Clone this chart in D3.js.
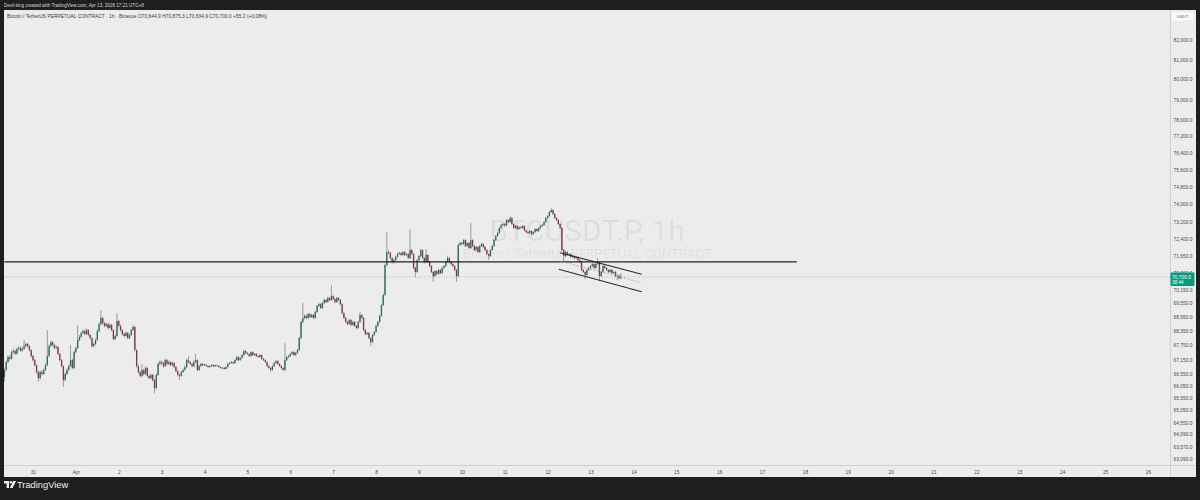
<!DOCTYPE html>
<html><head><meta charset="utf-8">
<script src="https://cdn.jsdelivr.net/npm/d3@7"></script>
<style>html,body{margin:0;padding:0;background:#1e1e1e;overflow:hidden}</style>
</head><body><svg id="c" width="1200" height="500"></svg>
<script>
// ---------- DATA ----------
const symbolName = "BTCUSDT.P, 1h";
const symbolDesc = "Bitcoin / TetherUS PERPETUAL CONTRACT";
const headerText = "Devil-king created with TradingView.com, Apr 13, 2026 17:21 UTC+8";
const legendTitle = "Bitcoin / TetherUS PERPETUAL CONTRACT · 1h · Binance";
const legendValues = ["O", "70,644.9", "H", "70,875.3", "L", "70,634.9", "C", "70,700.0", "+55.2 (+0.08%)"];

const firstBarTime = "2026-03-30T08:00:00Z"; // hourly bars (UTC+8 shown as-is)
const firstOpen = 66420;
const closes = [
66710,67040,67250,67180,67460,67500,67390,67590,67630,67520,67590,67710,67800,67710,67540,67290,
67120,66910,66620,66370,66620,66540,66710,66910,67290,67710,67880,67760,67630,67670,67380,67120,66870,66290,66540,66710,66870,67120,66790,67460,
67630,67970,68100,68270,68350,68220,68390,68180,68050,67710,67800,67970,68350,68650,68910,68690,68570,68650,68480,68610,68390,68010,68140,68780,
68570,68390,68220,68140,68270,68050,68180,68390,68520,67540,66870,66620,66460,66710,66540,66790,66460,66370,66500,66290,65960,66500,66960,67040,
67000,66870,67120,66960,67040,66910,67000,66830,66660,66500,66460,66620,66710,66830,67120,67040,66960,66870,67040,67120,66710,66870,66960,66910,
66930,66880,66830,66870,66920,66860,66910,66880,66830,66790,66800,66750,66830,66960,67000,67040,66990,67120,67250,67120,67210,67330,67500,67420,
67380,67290,67460,67330,67380,67290,67250,67330,67170,67120,67040,66870,66790,66710,66870,67000,67080,66960,66870,66790,66710,67120,67250,67290,
67380,67460,67330,67420,67540,68050,68740,68910,69000,68910,69080,68950,69040,68910,69170,69430,69510,69340,69560,69690,69600,69780,69690,69860,
69730,69600,69780,69690,69510,69120,68910,68740,68650,68820,68610,68740,68570,68480,68740,69040,68910,68390,68220,68270,68050,67880,68180,68310,
68570,68740,69000,69470,69910,71230,71810,71770,71540,71360,71450,71590,71720,71770,71680,71810,71680,71720,71540,71900,71720,71100,70920,71450,
71630,71900,71540,71360,71680,71360,71180,70920,70740,70960,70830,71010,70870,71100,71180,71360,71540,71360,71270,71180,71010,70740,72130,72220,
72170,72350,72080,72220,71990,72350,72080,71900,72040,71810,72080,72170,72040,71900,71720,71630,71900,72080,72350,72530,72670,72900,73030,73080,
73010,73260,73170,73350,73080,72900,72990,72850,72940,72900,72990,72800,72710,72670,72760,72620,72710,72850,72760,72900,72990,73030,73170,73350,
73440,73630,73720,73540,73350,73260,73080,72900,71900,71630,71810,71680,71720,71590,71630,71540,71590,71450,71360,71010,70920,70790,71010,71100,
71180,71270,71100,71270,71360,70740,70920,71180,71100,71010,70920,71010,70870,70920,70740,70760,70644.9,70700
];
const highs = [
66780,67110,67330,67320,67520,67610,67560,67650,67720,67690,67680,67970,67860,67850,67760,67580,
67340,67160,66950,66680,66690,66700,66770,66980,68390,67790,67950,67920,67810,67740,67710,67420,67160,66900,66600,66780,66930,67760,67180,67530,
67700,68610,68180,68330,68430,68410,68460,68430,68230,68090,67870,68040,68420,68720,69250,68960,68740,68720,68700,68680,68650,68430,68200,69120,
68830,68620,68440,68290,68340,68310,68250,68450,68610,68560,67580,66920,66680,66960,66760,66860,66830,66510,66560,66540,66330,66560,67020,67120,
67100,67050,67180,67170,67110,67080,67060,67040,66870,66700,66560,66680,66770,66890,67180,67290,67090,67000,67100,67380,67160,66930,67010,67000,
66980,66960,66910,66900,66950,66940,66930,66930,66900,66850,66830,66820,66860,67000,67040,67080,67060,67160,67300,67270,67250,67380,67560,67540,
67460,67410,67500,67480,67420,67410,67320,67370,67350,67200,67150,67070,66900,66820,66910,67040,67120,67110,66990,66900,66820,67840,67300,67340,
67420,67510,67490,67460,67590,68110,68800,69560,69070,69050,69130,69120,69090,69080,69220,69480,69570,69550,69610,69740,69730,69830,69820,70340,
69900,69770,69830,69820,69730,69550,69160,68950,68790,68870,68860,68790,68780,68610,68790,69170,69080,68950,68430,68320,68310,68090,68230,68360,
68620,68790,69050,69530,69970,71290,72710,71900,71820,71590,71510,71640,71770,71830,71810,71860,71850,71770,71760,72850,71950,71760,71150,71500,
71680,71960,71940,71580,71950,71720,71400,71220,70960,71010,71000,71060,71050,71150,71230,71410,71640,71580,71400,71310,71220,71050,72190,72280,
72270,72400,72390,72270,72260,73120,72390,72120,72090,72080,72130,72220,72210,72080,71940,71760,71950,72130,72400,72580,72720,72950,73080,73140,
73130,73310,73300,73440,73390,73120,73040,73030,72990,72980,73030,73030,72840,72750,72800,72800,72750,72890,72890,72940,73030,73080,73220,73400,
73490,73680,73810,73760,73580,73390,73300,73120,72940,71940,71860,71850,71770,71760,71680,71670,71640,71630,71490,71400,71050,70960,71060,71150,
71230,71450,71310,71320,71540,71400,70970,71230,71220,71140,71050,71060,71050,70970,70960,70810,70800,70875.3
];
const lows = [
66220,66650,66990,67100,67140,67400,67330,67350,67520,67470,67480,67550,67650,67640,67490,67230,
67050,66850,66560,66210,66320,66480,66490,66660,66870,67240,67660,67700,67570,67580,67330,67060,66810,66000,66240,66490,66650,66830,66730,66750,
67400,67590,67920,68050,68210,68170,68180,68130,67990,67650,67660,67760,67930,68300,68600,68630,68510,68520,68420,68440,68340,67950,67960,68100,
68510,68330,68160,68080,68100,68000,68010,68140,68350,67480,66800,66550,66400,66420,66480,66490,66400,66310,66320,66230,65750,65910,66450,66900,
66930,66800,66830,66900,66910,66860,66870,66780,66600,66440,66290,66420,66580,66670,66790,66990,66910,66820,66830,67000,66660,66670,66830,66870,
66870,66840,66800,66800,66840,66830,66840,66850,66800,66760,66760,66720,66730,66810,66930,66970,66950,66970,67090,67080,67090,67180,67300,67370,
67340,67250,67260,67300,67300,67260,67210,67220,67130,67080,67000,66830,66740,66620,66680,66840,66960,66920,66830,66750,66660,66680,67080,67200,
67250,67340,67290,67300,67380,67500,68000,68700,68850,68860,68870,68900,68910,68860,68880,69130,69390,69290,69300,69520,69550,69570,69640,69650,
69680,69550,69560,69640,69460,69070,68860,68690,68590,68610,68560,68570,68520,68430,68440,68700,68860,68340,68170,68180,68000,67710,67840,68140,
68270,68530,68700,68960,69430,69870,71180,71700,71480,71300,71310,71410,71550,71680,71630,71640,71630,71640,71490,71500,71670,71040,70700,70880,
71400,71590,71490,71300,71320,71310,71130,70870,70480,70700,70780,70790,70820,70830,71060,71140,71320,71310,71220,71130,70960,70480,70700,72080,
72110,72130,72030,72040,71940,71950,72030,71850,71860,71760,71770,72040,71990,71850,71670,71450,71590,71860,72040,72310,72490,72630,72860,72990,
72960,72970,73120,73130,73030,72850,72860,72800,72810,72860,72860,72750,72660,72620,72630,72530,72580,72670,72720,72720,72860,72950,72990,73130,
73300,73400,73590,73490,73300,73210,73030,72850,71840,71360,71590,71630,71640,71540,71550,71490,71500,71400,71310,70960,70870,70610,70750,70960,
71050,71140,71050,71060,71230,70520,70700,70880,71050,70960,70870,70880,70820,70830,70690,70560,70600,70634.9
];

const priceTicks = [82000,81000,80000,79000,78000,77200,76400,75600,74800,74000,73200,72400,71650,70900,70150,69550,68950,68350,67750,67150,66550,66050,65550,65050,64550,64090,63570,63090];
const dayTicks = ["2026-03-31","2026-04-01","2026-04-02","2026-04-03","2026-04-04","2026-04-05","2026-04-06","2026-04-07","2026-04-08","2026-04-09","2026-04-10","2026-04-11","2026-04-12","2026-04-13","2026-04-14","2026-04-15","2026-04-16","2026-04-17","2026-04-18","2026-04-19","2026-04-20","2026-04-21","2026-04-22","2026-04-23","2026-04-24","2026-04-25","2026-04-26"];
const dayLabels = ["31","Apr","2","3","4","5","6","7","8","9","10","11","12","13","14","15","16","17","18","19","20","21","22","23","24","25","26"];

const lastPrice = 70700;
const countdown = "38:44";
const hLine = [["2026-03-30T08:00:00Z", 71370], ["2026-04-17T19:25:00Z", 71370]];
const channelUpper = [["2026-04-12T06:50:00Z", 71780], ["2026-04-14T04:40:00Z", 70817]];
const channelLower = [["2026-04-12T06:15:00Z", 71040], ["2026-04-14T04:40:00Z", 70050]];
const channelMid   = [["2026-04-12T06:50:00Z", 71410], ["2026-04-14T04:40:00Z", 70446]];

// ---------- LAYOUT ----------
const W = 1200, H = 500;
const pane = {x0: 4, x1: 1170, y0: 10, y1: 465};
const svg = d3.select("#c");
const FONT = "'Liberation Sans', Arial, sans-serif";

const x = d3.scaleUtc()
  .domain([new Date("2026-03-31T00:00:00Z"), new Date("2026-04-26T00:00:00Z")])
  .range([33, 1148]);
const y = d3.scaleLog().domain([63090, 82000]).range([459.2, 39.7]);

// frame
svg.append("rect").attr("width", W).attr("height", H).attr("fill", "#1e1e1e");
svg.append("rect").attr("x", 4).attr("y", 10).attr("width", 1192).attr("height", 467).attr("fill", "#ececec");
svg.append("line").attr("x1", pane.x1 + 0.5).attr("x2", pane.x1 + 0.5).attr("y1", 10).attr("y2", 477).attr("stroke", "#d0d0d0");
svg.append("line").attr("x1", 4).attr("x2", 1196).attr("y1", pane.y1 + 0.5).attr("y2", pane.y1 + 0.5).attr("stroke", "#d0d0d0");

// header
svg.append("text").attr("x", 4).attr("y", 7).attr("font-family", FONT).attr("font-size", 4.6)
  .attr("fill", "#d8d8d8").text(headerText);

// clip for pane
svg.append("clipPath").attr("id", "pc").append("rect")
  .attr("x", pane.x0).attr("y", pane.y0).attr("width", pane.x1 - pane.x0).attr("height", pane.y1 - pane.y0);
const g = svg.append("g").attr("clip-path", "url(#pc)");

// watermark
g.append("text").attr("x", 587).attr("y", 241).attr("text-anchor", "middle")
  .attr("font-family", "Roboto, 'Liberation Sans', sans-serif").attr("font-size", 30)
  .attr("fill", "#000").attr("fill-opacity", 0.07).text(symbolName);
g.append("text").attr("x", 587).attr("y", 258).attr("text-anchor", "middle")
  .attr("font-family", "Roboto, 'Liberation Sans', sans-serif").attr("font-size", 13)
  .attr("fill", "#000").attr("fill-opacity", 0.07).text(symbolDesc);

// legend
const lg = svg.append("text").attr("x", 7).attr("y", 17.5).attr("font-family", FONT).attr("font-size", 4.9).attr("fill", "#3a3a3a");
lg.append("tspan").text(legendTitle + "  ");
legendValues.forEach((v, i) => {
  lg.append("tspan").text(v + (i % 2 === 1 || i === 8 ? "  " : ""));
});

// last price dotted line
g.append("line").attr("x1", pane.x0).attr("x2", pane.x1).attr("y1", y(lastPrice)).attr("y2", y(lastPrice))
  .attr("stroke", "#089981").attr("stroke-opacity", 0.6).attr("stroke-width", 0.7).attr("stroke-dasharray", "1,1.5");

// candles
const t0 = new Date(firstBarTime).getTime();
const bars = closes.map((c, i) => ({
  t: new Date(t0 + i * 3600e3), o: i ? closes[i - 1] : firstOpen, h: highs[i], l: lows[i], c
}));
const upC = "#2a6b5d", dnC = "#833840";
const cg = g.append("g");
cg.selectAll("line.w").data(bars).join("line")
  .attr("x1", d => x(d.t)).attr("x2", d => x(d.t))
  .attr("y1", d => y(d.h)).attr("y2", d => y(d.l))
  .attr("stroke", d => d.c >= d.o ? "#6e8680" : "#9a7476").attr("stroke-width", 0.75);
cg.selectAll("rect.b").data(bars).join("rect")
  .attr("x", d => x(d.t) - 0.65).attr("width", 1.3)
  .attr("y", d => y(Math.max(d.o, d.c)))
  .attr("height", d => Math.max(0.7, Math.abs(y(d.o) - y(d.c))))
  .attr("fill", d => d.c >= d.o ? upC : dnC);

// drawings
const pt = p => [x(new Date(p[0])), y(p[1])];
const drawLine = (arr, stroke, w, dash) => {
  const a = pt(arr[0]), b = pt(arr[1]);
  g.append("line").attr("x1", a[0]).attr("y1", a[1]).attr("x2", b[0]).attr("y2", b[1])
    .attr("stroke", stroke).attr("stroke-width", w).attr("stroke-dasharray", dash || null);
};
drawLine(hLine, "#1f1f1f", 1.1);
drawLine(channelUpper, "#2a2a2a", 1.1);
drawLine(channelLower, "#2a2a2a", 1.1);
drawLine(channelMid, "#9a9a9a", 0.7, "2,1.5");

// price axis
const ya = svg.append("g").attr("transform", `translate(${pane.x1 + 2},0)`)
  .call(d3.axisRight(y).tickValues(priceTicks).tickSize(0).tickFormat(d3.format(",.1f")));
ya.select(".domain").remove();
ya.selectAll("text").attr("font-family", FONT).attr("font-size", 4.9).attr("fill", "#4a4a4a").attr("x", 1.5).attr("dy", "0.35em");

// USDT box
svg.append("rect").attr("x", 1172).attr("y", 12.5).attr("width", 21).attr("height", 8).attr("rx", 1).attr("fill", "#fafafa");
svg.append("text").attr("x", 1182.5).attr("y", 18.2).attr("text-anchor", "middle").attr("font-family", FONT)
  .attr("font-size", 4.2).attr("fill", "#555").text("USDT");

// last price label
const ly = y(lastPrice);
svg.append("rect").attr("x", pane.x1 + 0.5).attr("y", ly - 4.5).attr("width", 24).attr("height", 13.5).attr("rx", 1).attr("fill", "#089981");
svg.append("text").attr("x", pane.x1 + 2).attr("y", ly + 1.8).attr("font-family", FONT).attr("font-size", 4.9)
  .attr("fill", "#fff").text(d3.format(",.1f")(lastPrice));
svg.append("text").attr("x", pane.x1 + 2).attr("y", ly + 7.2).attr("font-family", FONT).attr("font-size", 4.6)
  .attr("fill", "#fff").text(countdown);

// time axis
const xa = svg.append("g").attr("transform", `translate(0,${pane.y1 + 2})`)
  .call(d3.axisBottom(x).tickValues(dayTicks.map(d => new Date(d + "T00:00:00Z"))).tickSize(0)
    .tickFormat((d, i) => dayLabels[i]));
xa.select(".domain").remove();
xa.selectAll("text").attr("font-family", FONT).attr("font-size", 4.9).attr("fill", "#4a4a4a").attr("dy", "0.9em");

// TradingView footer logo
const lgG = svg.append("g").attr("transform", "translate(4,480)").attr("fill", "#f0f0f0");
lgG.append("path").attr("d", "M0,1 H5 V8 H2.6 V3.4 H0 Z");
lgG.append("circle").attr("cx", 6.9).attr("cy", 2.3).attr("r", 1.3);
lgG.append("path").attr("d", "M9.2,1 H12 L8.6,8 H5.8 Z");
svg.append("text").attr("x", 17).attr("y", 488).attr("font-family", FONT).attr("font-size", 9.3)
  .attr("fill", "#f0f0f0").text("TradingView");
</script></body></html>
